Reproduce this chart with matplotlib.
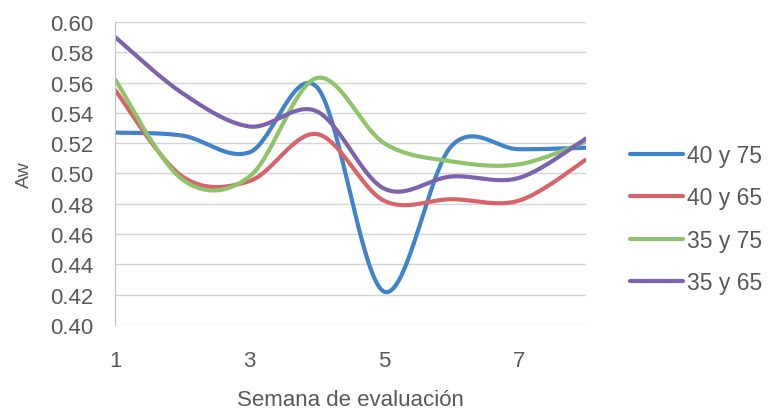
import numpy as np
import matplotlib.pyplot as plt

weeks = [1, 2, 3, 4, 5, 6, 7, 8]
s40_75 = [0.527, 0.525, 0.514, 0.557, 0.422, 0.518, 0.516, 0.517]
s40_65 = [0.555, 0.498, 0.495, 0.526, 0.482, 0.483, 0.482, 0.509]
s35_75 = [0.562, 0.496, 0.498, 0.563, 0.520, 0.508, 0.506, 0.521]
s35_65 = [0.590, 0.553, 0.531, 0.541, 0.490, 0.498, 0.497, 0.523]
labels = ["40 y 75", "40 y 65", "35 y 75", "35 y 65"]
colors = ["#3f84cb", "#d9636a", "#8fc46a", "#7d62ad"]

plt.rcParams['font.family'] = ['Liberation Sans', 'DejaVu Sans']
grey = "#595959"


def smooth(x, y, n=40):
    # excel-style smoothed line: catmull-rom through every point
    x = np.asarray(x, float)
    y = np.asarray(y, float)
    px = np.concatenate([[x[0]], x, [x[-1]]])
    py = np.concatenate([[y[0]], y, [y[-1]]])
    xs, ys = [], []
    t = np.linspace(0, 1, n)
    for i in range(1, len(px) - 2):
        p0 = np.array([px[i], py[i]])
        p3 = np.array([px[i + 1], py[i + 1]])
        c1 = p0 + (np.array([px[i + 1], py[i + 1]]) - np.array([px[i - 1], py[i - 1]])) / 6
        c2 = p3 - (np.array([px[i + 2], py[i + 2]]) - np.array([px[i], py[i]])) / 6
        b = ((1 - t) ** 3)[:, None] * p0 + (3 * (1 - t) ** 2 * t)[:, None] * c1 \
            + (3 * (1 - t) * t ** 2)[:, None] * c2 + (t ** 3)[:, None] * p3
        xs.extend(b[:, 0])
        ys.extend(b[:, 1])
    return xs, ys


fig = plt.figure(figsize=(7.78, 4.10), dpi=100)
ax = fig.add_axes([0.148, 0.205, 0.605, 0.739])

for vals, lab, c in zip([s40_75, s40_65, s35_75, s35_65], labels, colors):
    sx, sy = smooth(weeks, vals)
    ax.plot(sx, sy, color=c, lw=3, label=lab, solid_capstyle='round')

ax.set_xlim(1, 8)
ax.set_ylim(0.40, 0.60)
ax.set_yticks(np.arange(0.40, 0.601, 0.02))
ax.set_yticklabels([f"{v:.2f}" for v in np.arange(0.40, 0.601, 0.02)])
ax.set_xticks([1, 3, 5, 7])
ax.grid(axis='y', color='#d4d4d4', lw=1)
ax.set_axisbelow(True)
for s in ['top', 'right', 'bottom']:
    ax.spines[s].set_visible(False)
ax.spines['left'].set_color('#bfbfbf')
ax.tick_params(length=0, labelsize=16, colors=grey)
ax.tick_params(axis='y', pad=16)
ax.tick_params(axis='x', pad=18)
ax.set_ylabel("Aw", fontsize=14, color=grey, labelpad=12)
ax.set_xlabel("Semana de evaluación", fontsize=16, color=grey, labelpad=13)

ax.legend(loc='center left', bbox_to_anchor=(1.05, 0.35), frameon=False,
          fontsize=16.5, labelcolor=grey, handlelength=2.3, handletextpad=0.2,
          labelspacing=0.85)

fig.savefig("out.png", dpi=100)
